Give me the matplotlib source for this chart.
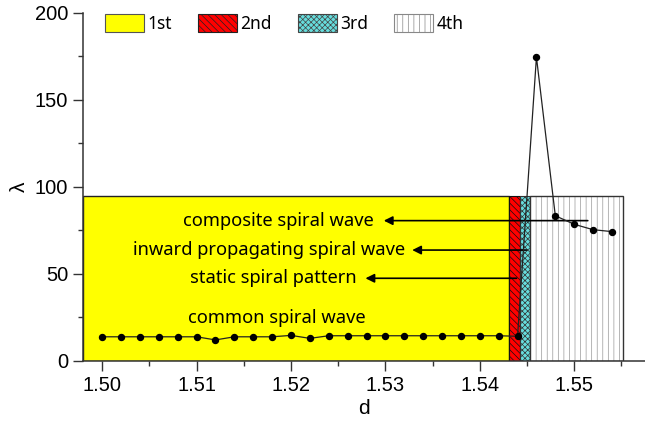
import matplotlib
matplotlib.use("Agg")
import matplotlib.pyplot as plt
from matplotlib.patches import Patch

# ---- data ----
d = [1.500, 1.502, 1.504, 1.506, 1.508, 1.510, 1.512, 1.514, 1.516, 1.518,
     1.520, 1.522, 1.524, 1.526, 1.528, 1.530, 1.532, 1.534, 1.536, 1.538,
     1.540, 1.542, 1.544, 1.546, 1.548, 1.550, 1.552, 1.554]
lam = [13.9, 13.9, 13.9, 13.9, 13.9, 13.9, 12.1, 13.9, 13.9, 13.9,
       14.7, 13.0, 14.5, 14.5, 14.5, 14.5, 14.5, 14.5, 14.5, 14.5,
       14.5, 14.5, 14.2, 174.5, 83.4, 78.5, 75.4, 74.3]

phase_edges = [1.498, 1.5431, 1.5443, 1.5453, 1.5552]
phase_labels = ["1st", "2nd", "3rd", "4th"]
phase_height = 95

# text labels: (text, text_x_right, y, arrow tip x, arrow tail x)
notes = [
    ("composite spiral wave", 1.52877, 80.6, 1.52983, 1.55144),
    ("inward propagating spiral wave", 1.53213, 63.7, 1.53284, 1.54495),
    ("static spiral pattern", 1.52700, 47.5, 1.52789, 1.54389),
]
common_note = ("common spiral wave", 1.51854, 24.5)

plt.rcParams['font.family'] = ['Liberation Sans', 'DejaVu Sans']
plt.rcParams['hatch.linewidth'] = 0.5
note_font = ['Noto Sans', 'DejaVu Sans']
red_hatch = '\\\\\\\\\\'
cyan_hatch = 'xxxxxx'

fig = plt.figure(figsize=(6.45, 4.24), dpi=100)
ax = fig.add_axes([83.3 / 645, 1 - 361 / 424, 1 - 83.3 / 645, (361 - 12.7) / 424])

lefts = phase_edges[:-1]
widths = [b - a for a, b in zip(phase_edges[:-1], phase_edges[1:])]

# 1st: yellow, 2nd: red hatched, 3rd: cyan crosshatch, 4th: white with grey vertical lines
ax.bar(lefts[0], phase_height, widths[0], align='edge', color='#ffff00',
       edgecolor='#222222', lw=1.0, zorder=1)
ax.bar(lefts[1], phase_height, widths[1], align='edge', color='#ff0000',
       edgecolor='#111111', lw=0.8, hatch=red_hatch, zorder=1)
ax.bar(lefts[2], phase_height, widths[2], align='edge', color='#66dddd',
       edgecolor='#333333', lw=0.8, hatch=cyan_hatch, zorder=1)
ax.bar(lefts[3], phase_height, widths[3], align='edge', color='white',
       edgecolor='#999999', lw=0, hatch='|||', zorder=1)
ax.bar(lefts[3], phase_height, widths[3], align='edge', fill=False,
       edgecolor='#333333', lw=1.0, zorder=1.5)

ax.plot(d, lam, color='#222222', lw=0.9, marker='o', ms=4.3,
        mfc='black', mec='black', zorder=4)

for txt, tx, y, tip, tail in notes:
    ax.annotate('', xy=(tip, y), xytext=(tail, y),
                arrowprops=dict(arrowstyle='-|>', color='black', lw=1.2,
                                mutation_scale=13, shrinkA=0, shrinkB=0),
                zorder=3)
    ax.text(tx, y, txt, ha='right', va='center', fontsize=13.2,
            family=note_font, zorder=3)
ax.text(common_note[1], common_note[2], common_note[0], ha='center',
        va='center', fontsize=13.2, family=note_font, zorder=3)

ax.set_xlim(1.498, 1.5575)
ax.set_ylim(0, 200)
ax.set_xticks([1.50, 1.51, 1.52, 1.53, 1.54, 1.55])
ax.set_xticks([1.505, 1.515, 1.525, 1.535, 1.545, 1.555], minor=True)
ax.set_yticks([0, 50, 100, 150, 200])
ax.set_yticks([25, 75, 125, 175], minor=True)
ax.xaxis.set_major_formatter(matplotlib.ticker.FormatStrFormatter('%.2f'))

for s in ['top', 'right']:
    ax.spines[s].set_visible(False)
for s in ['left', 'bottom']:
    ax.spines[s].set_linewidth(1.1)
    ax.spines[s].set_color('#333333')
ax.tick_params(which='major', direction='out', length=7, width=1.0,
               labelsize=14.5, color='#333333', pad=4)
ax.tick_params(which='minor', direction='out', length=3.5, width=1.0,
               color='#333333')

ax.set_xlabel('d', fontsize=15, labelpad=3)
ax.set_ylabel('λ', fontsize=15, labelpad=4)

handles = [
    Patch(facecolor='#ffff00', edgecolor='#555555', lw=0.8),
    Patch(facecolor='#ff0000', edgecolor='#222222', lw=0.8, hatch=red_hatch),
    Patch(facecolor='#66dddd', edgecolor='#444444', lw=0.8, hatch=cyan_hatch),
    Patch(facecolor='white', edgecolor='#888888', lw=0.8, hatch='|||'),
]
ax.legend(handles, phase_labels, loc='upper left', ncol=4, frameon=False,
          bbox_to_anchor=(105 / 645, 1 - 14.5 / 424), bbox_transform=fig.transFigure,
          borderaxespad=0, borderpad=0, handlelength=2.24,
          handleheight=1.13, handletextpad=0.2, columnspacing=1.5,
          prop={'family': note_font, 'size': 12.5})

fig.savefig('out.png', dpi=100)
